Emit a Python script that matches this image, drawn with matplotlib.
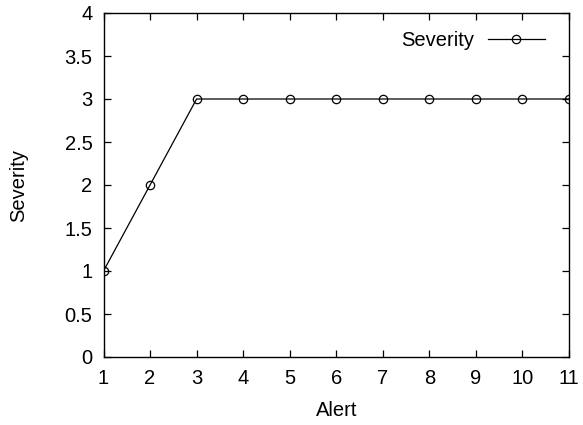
import matplotlib
matplotlib.use("Agg")
import matplotlib.pyplot as plt

plt.rcParams['font.family'] = ['Liberation Sans', 'DejaVu Sans']

alerts = [1, 2, 3, 4, 5, 6, 7, 8, 9, 10, 11]
severity = [1, 2, 3, 3, 3, 3, 3, 3, 3, 3, 3]
yticks = [0, 0.5, 1, 1.5, 2, 2.5, 3, 3.5, 4]
ytick_labels = ['0', '0.5', '1', '1.5', '2', '2.5', '3', '3.5', '4']

FS = 14.5

fig = plt.figure(figsize=(5.83, 4.25), dpi=100)
ax = fig.add_axes([103.5 / 583, 1 - 357 / 425, (569 - 103.5) / 583, (357 - 13) / 425])

ax.plot(alerts, severity, color='black', linewidth=0.9, marker='o',
        markersize=6, markerfacecolor='none', markeredgecolor='black',
        markeredgewidth=0.9, label='Severity')

ax.set_xlim(1, 11)
ax.set_ylim(0, 4)
ax.set_xticks(alerts)
ax.set_yticks(yticks)
ax.set_yticklabels(ytick_labels)
ax.tick_params(direction='in', top=True, right=True, length=5, width=0.9,
               labelsize=FS, colors='black')
ax.tick_params(axis='x', pad=9)
ax.tick_params(axis='y', pad=8)
for s in ax.spines.values():
    s.set_linewidth(1.0)

ax.set_xlabel('Alert', fontsize=FS, labelpad=9)
ax.set_ylabel('Severity', fontsize=FS, labelpad=26)

leg = ax.legend(loc='upper right', frameon=False, fontsize=FS,
                markerfirst=False, handlelength=2.8, handletextpad=0.7,
                borderaxespad=0.0, bbox_to_anchor=(0.965, 0.97))

fig.savefig('out.png', dpi=100)
